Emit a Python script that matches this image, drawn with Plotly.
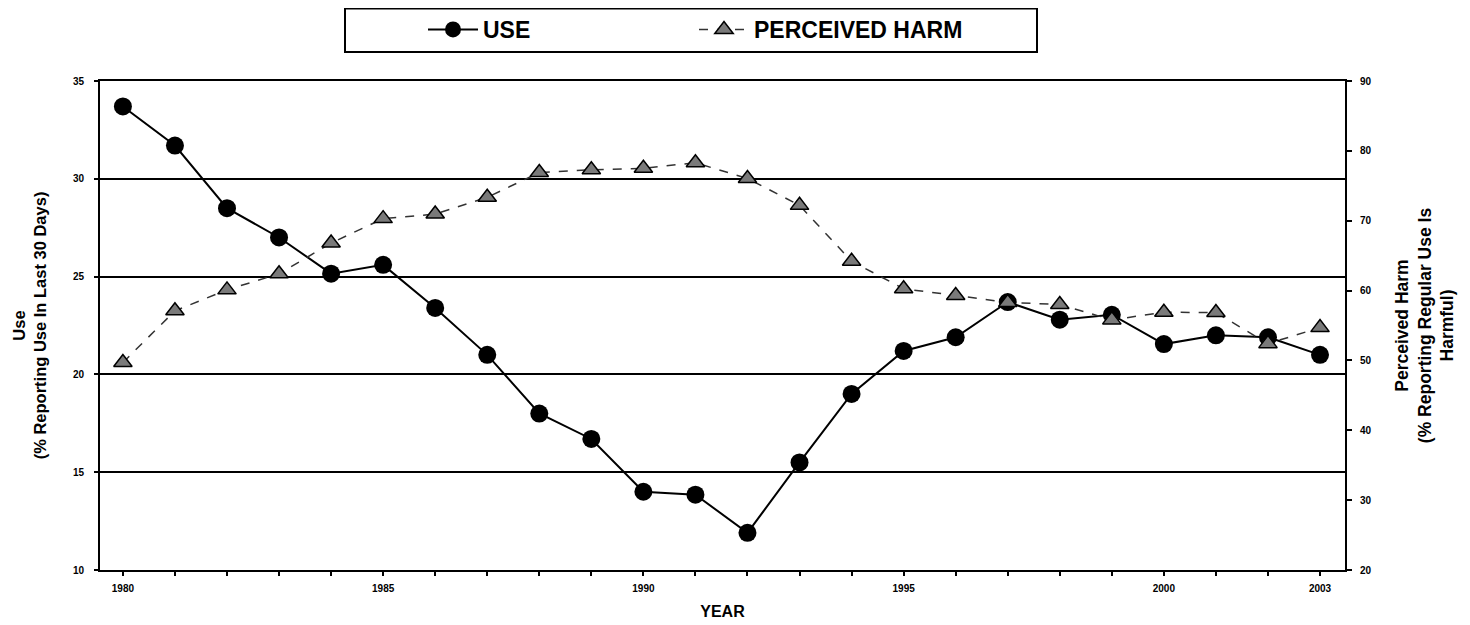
import plotly.graph_objects as go

years = list(range(1980, 2004))
use = [33.7, 31.7, 28.5, 27.0, 25.15, 25.6, 23.4, 21.0, 18.0, 16.7, 14.0, 13.85,
       11.9, 15.5, 19.0, 21.2, 21.9, 23.7, 22.8, 23.05, 21.55, 22.0, 21.9, 21.0]
harm = [49.7, 57.1, 60.1, 62.4, 66.8, 70.3, 70.95, 73.35, 76.9, 77.3, 77.5, 78.3,
        76.05, 72.2, 64.2, 60.25, 59.3, 58.3, 58.0, 55.8, 56.9, 56.85, 52.4, 54.7]
x_labels = {1980: "1980", 1985: "1985", 1990: "1990", 1995: "1995", 2000: "2000", 2003: "2003"}
left_ticks = [10, 15, 20, 25, 30, 35]
right_ticks = [20, 30, 40, 50, 60, 70, 80, 90]

# page body has an 8px margin; figure sized to fit the window
W, H = 1462, 617
ml, mr, mt, mb = 92, 125, 73, 55
PW = W - ml - mr
PH = H - mt - mb

def px(xf):
    return (xf - ml) / PW

def py(yf):
    return 1 + (mt - yf) / PH

fig = go.Figure()
fig.add_trace(go.Scatter(
    x=years, y=use, name="<b>USE</b>", mode="lines+markers",
    line=dict(color="black", width=2),
    marker=dict(symbol="circle", size=18, color="black"),
    yaxis="y"))
fig.add_trace(go.Scatter(
    x=years, y=harm, name="<b>PERCEIVED HARM</b>", mode="lines+markers",
    line=dict(color="#333333", width=1.5, dash="dash"),
    marker=dict(symbol="triangle-up", size=16, color="#7a7a7a",
                line=dict(color="black", width=1.5)),
    yaxis="y2"))

tick_font = dict(family="Liberation Sans, Arial", size=10, color="black", weight="bold")

fig.update_layout(
    width=W, height=H,
    margin=dict(l=ml, r=mr, t=mt, b=mb, autoexpand=False),
    paper_bgcolor="white", plot_bgcolor="white",
    font=dict(family="Liberation Sans, Arial", color="black"),
    xaxis=dict(
        range=[1979.56, 2003.48],
        tickvals=years,
        ticktext=[x_labels.get(y, "") for y in years],
        ticks="outside", ticklen=4, tickwidth=1.5, tickcolor="black",
        tickfont=tick_font, tickangle=0, ticklabelstandoff=4,
        showline=True, linecolor="black", linewidth=2, mirror=True,
        showgrid=False, zeroline=False,
        title=dict(text="<b>YEAR</b>",
                   font=dict(family="Liberation Sans, Arial", size=16, color="black"),
                   standoff=13),
    ),
    yaxis=dict(
        range=[10, 35], tickvals=left_ticks,
        ticks="outside", ticklen=4, tickwidth=1.5, tickcolor="black",
        tickfont=tick_font, ticklabelstandoff=8,
        showline=True, linecolor="black", linewidth=2,
        showgrid=True, gridcolor="black", gridwidth=2, zeroline=False,
        title=dict(text="<b>Use<br>(% Reporting Use In Last 30 Days)</b>",
                   font=dict(family="Liberation Sans, Arial", size=16.5, color="black"),
                   standoff=22),
    ),
    yaxis2=dict(
        range=[20, 90], tickvals=right_ticks, overlaying="y", side="right",
        ticks="outside", ticklen=5, tickwidth=1.5, tickcolor="black",
        tickfont=tick_font, ticklabelstandoff=6,
        showline=True, linecolor="black", linewidth=2,
        showgrid=False, zeroline=False,
        title=dict(text="<b>Perceived Harm<br>(% Reporting Regular Use Is<br>Harmful)</b>",
                   font=dict(family="Liberation Sans, Arial", size=17.5, color="black"),
                   standoff=25),
    ),
    legend=dict(
        orientation="h", x=px(415), xanchor="left",
        y=py(0), yanchor="top",
        font=dict(family="Liberation Sans, Arial", size=23, color="black"),
        bgcolor="rgba(0,0,0,0)", borderwidth=0,
        entrywidth=206, entrywidthmode="pixels",
        itemwidth=50,
    ),
    showlegend=True,
)

# Legend frame
fig.add_shape(type="rect", xref="paper", yref="paper",
              x0=px(337), x1=px(1029), y0=py(44), y1=py(0.5),
              line=dict(color="black", width=2), fillcolor="rgba(0,0,0,0)")

fig.write_html("out.html")
